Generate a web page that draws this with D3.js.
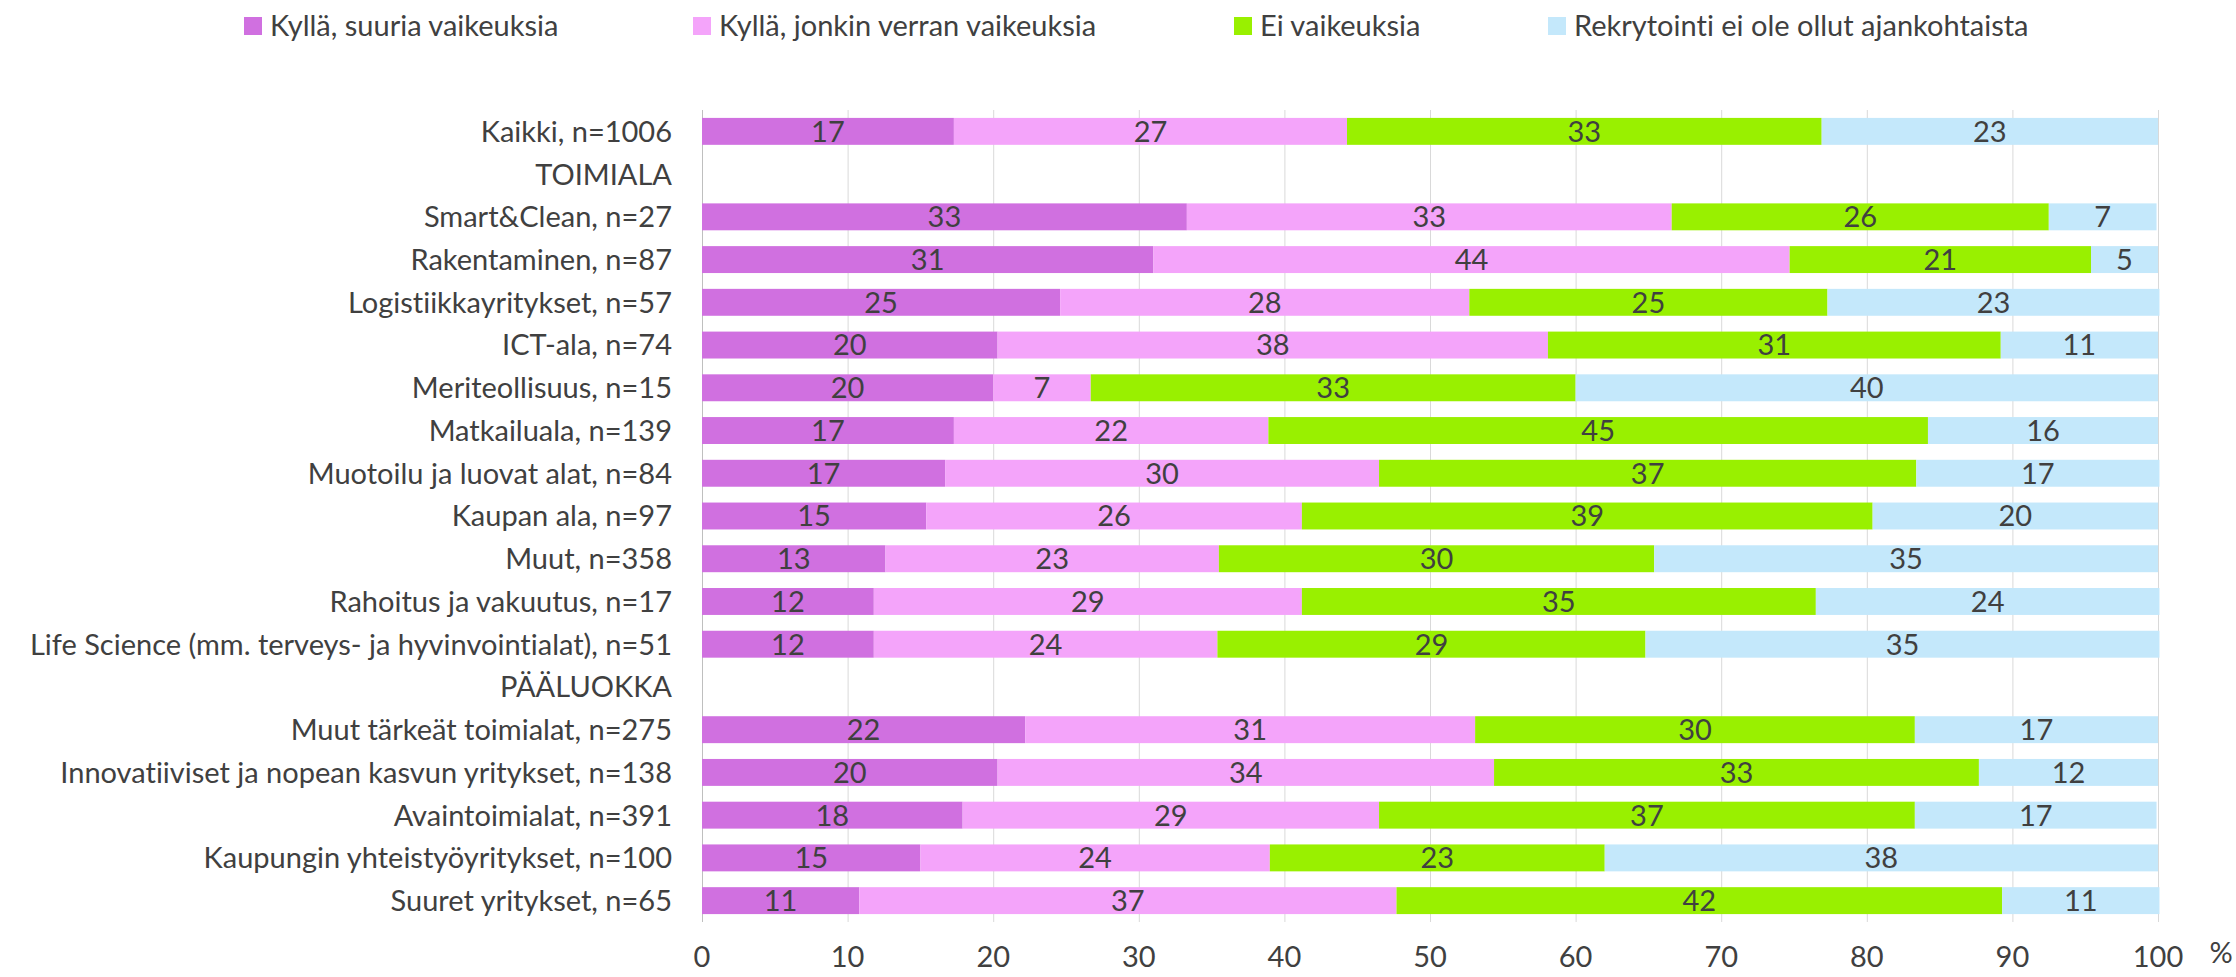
<!DOCTYPE html>
<html>
<head>
<meta charset="utf-8">
<script src="https://cdn.jsdelivr.net/npm/d3@7"></script>
<style>
  body { margin: 0; background: #fff; }
  text { font-family: Lato, "Liberation Sans", sans-serif; fill: #404040; font-variant-ligatures: none; }
</style>
</head>
<body>
<div id="chart"></div>
<script>
// rows top to bottom; header rows have no bars
var categories = ['Kaikki, n=1006', 'TOIMIALA', 'Smart&Clean, n=27', 'Rakentaminen, n=87',
                  'Logistiikkayritykset, n=57', 'ICT-ala, n=74', 'Meriteollisuus, n=15',
                  'Matkailuala, n=139', 'Muotoilu ja luovat alat, n=84', 'Kaupan ala, n=97',
                  'Muut, n=358', 'Rahoitus ja vakuutus, n=17',
                  'Life Science (mm. terveys- ja hyvinvointialat), n=51', 'PÄÄLUOKKA',
                  'Muut tärkeät toimialat, n=275', 'Innovatiiviset ja nopean kasvun yritykset, n=138',
                  'Avaintoimialat, n=391', 'Kaupungin yhteistyöyritykset, n=100', 'Suuret yritykset, n=65'];
var headers = ['TOIMIALA', 'PÄÄLUOKKA'];

var seriesNames = ['Kyllä, suuria vaikeuksia', 'Kyllä, jonkin verran vaikeuksia',
                   'Ei vaikeuksia', 'Rekrytointi ei ole ollut ajankohtaista'];

// percentages per series, in category order (null = header row)
var suuria   = [17.3, null, 33.3, 31.0, 24.6, 20.3, 20.0, 17.3, 16.7, 15.4, 12.6, 11.8, 11.8, null, 22.2, 20.3, 17.9, 15.0, 10.8];
var jonkin   = [27.0, null, 33.3, 43.7, 28.1, 37.8,  6.7, 21.6, 29.8, 25.8, 22.9, 29.4, 23.6, null, 30.9, 34.1, 28.6, 24.0, 36.9];
var eiVaik   = [32.6, null, 25.9, 20.7, 24.6, 31.1, 33.3, 45.3, 36.9, 39.2, 29.9, 35.3, 29.4, null, 30.2, 33.3, 36.8, 23.0, 41.6];
var rekry    = [23.1, null,  7.4,  4.6, 22.8, 10.8, 40.0, 15.8, 16.7, 19.6, 34.6, 23.6, 35.3, null, 16.7, 12.3, 16.6, 38.0, 10.8];

var xTicks = [0, 10, 20, 30, 40, 50, 60, 70, 80, 90, 100];
var colors = ['#D070E0', '#F4A4FA', '#99F000', '#C4E8FB'];

var width = 2236, height = 977;
var margin = {top: 110, right: 78, bottom: 55, left: 702};
var fontSize = '29px';

var svg = d3.select('#chart').append('svg')
  .attr('width', width)
  .attr('height', height);

var x = d3.scaleLinear().domain([0, 100]).range([margin.left, width - margin.right]);
var y = d3.scaleBand().domain(categories).range([margin.top, height - margin.bottom]);
var barH = y.bandwidth() * 0.63;

var color = d3.scaleOrdinal().domain(seriesNames).range(colors);

// gridlines
svg.append('g').selectAll('line')
  .data(xTicks)
  .enter().append('line')
  .attr('x1', function(d){ return x(d) + 0.5; })
  .attr('x2', function(d){ return x(d) + 0.5; })
  .attr('y1', margin.top)
  .attr('y2', height - margin.bottom)
  .attr('stroke', function(d){ return d == 0 ? '#BFBFBF' : '#D9D9D9'; })
  .attr('stroke-width', 1);

// build stacked rows
var rows = categories.map(function(c, i){
  return {cat: c, 'Kyllä, suuria vaikeuksia': suuria[i], 'Kyllä, jonkin verran vaikeuksia': jonkin[i],
          'Ei vaikeuksia': eiVaik[i], 'Rekrytointi ei ole ollut ajankohtaista': rekry[i]};
}).filter(function(r){ return headers.indexOf(r.cat) < 0; });

var stacked = d3.stack().keys(seriesNames)(rows);

var layer = svg.append('g').selectAll('g')
  .data(stacked)
  .enter().append('g')
  .attr('fill', function(d){ return color(d.key); });

layer.selectAll('rect')
  .data(function(d){ return d; })
  .enter().append('rect')
  .attr('x', function(d){ return x(d[0]); })
  .attr('width', function(d){ return x(d[1]) - x(d[0]); })
  .attr('y', function(d){ return y(d.data.cat) + (y.bandwidth() - barH) / 2; })
  .attr('height', barH);

layer.selectAll('text')
  .data(function(d){ return d.map(function(p){ p.key = d.key; return p; }); })
  .enter().append('text')
  .attr('x', function(d){ return (x(d[0]) + x(d[1])) / 2; })
  .attr('y', function(d){ return y(d.data.cat) + y.bandwidth() / 2; })
  .attr('dy', '0.36em')
  .attr('text-anchor', 'middle')
  .style('font-size', fontSize)
  .text(function(d){ return Math.round(d.data[d.key]); });

// category labels
svg.append('g').selectAll('text')
  .data(categories)
  .enter().append('text')
  .attr('x', margin.left - 30)
  .attr('y', function(d){ return y(d) + y.bandwidth() / 2; })
  .attr('dy', '0.36em')
  .attr('text-anchor', 'end')
  .style('font-size', fontSize)
  .text(function(d){ return d; });

// x tick labels
svg.append('g').selectAll('text')
  .data(xTicks)
  .enter().append('text')
  .attr('x', function(d){ return x(d); })
  .attr('y', 957)
  .attr('dy', '0.36em')
  .attr('text-anchor', 'middle')
  .style('font-size', fontSize)
  .text(function(d){ return d; });

svg.append('text')
  .attr('x', 2221)
  .attr('y', 953)
  .attr('dy', '0.36em')
  .attr('text-anchor', 'middle')
  .style('font-size', fontSize)
  .text('%');

// legend
var legendX = [244, 693, 1234, 1548];
var legend = svg.append('g').selectAll('g')
  .data(seriesNames)
  .enter().append('g')
  .attr('transform', function(d, i){ return 'translate(' + legendX[i] + ',17)'; });
legend.append('rect')
  .attr('width', 18)
  .attr('height', 18)
  .attr('fill', function(d){ return color(d); });
legend.append('text')
  .attr('x', 26)
  .attr('y', 9)
  .attr('dy', '0.36em')
  .style('font-size', fontSize)
  .text(function(d){ return d; });
</script>
</body>
</html>
